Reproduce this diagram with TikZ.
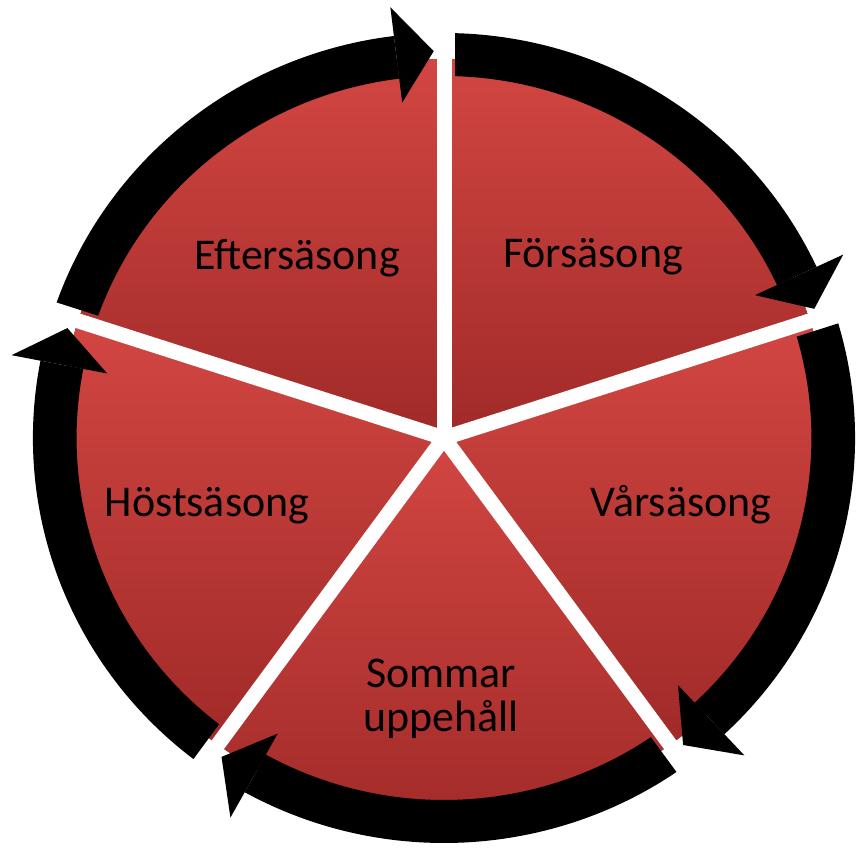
\documentclass[tikz,border=0pt]{standalone}
\usepackage{fontspec}
\setmainfont{Carlito}
\definecolor{segtop}{RGB}{210,70,66}
\definecolor{segbot}{RGB}{160,42,40}
\begin{document}
\begin{tikzpicture}[x=0.02cm,y=0.02cm,
  seg/.style={top color=segtop,bottom color=segbot},
  band/.style={fill=black},
  gapline/.style={draw=white,line width=0.3cm},
  lbl/.style={font=\fontsize{25}{25.5}\selectfont,text=black,anchor=base,inner sep=0pt}]
\useasboundingbox (0,0) rectangle (859,849);
\fill[white] (0,0) rectangle (859,849);
\begin{scope}[shift={(444,411)},xscale=1.015]
  % pie segments
  \foreach \a/\b in {162/90,90/18,18/-54,-54/-126,-126/-198}{
    \fill[seg] (0,0) -- (\a:379) arc[start angle=\a,end angle=\b,radius=379] -- cycle;
  }
  % gaps in the pie
  \foreach \g in {162,90,18,-54,-126}{
    \draw[gapline] (0,0) -- (\g:390);
  }
  % arrow shafts (tail cut parallel to the gap)
  \foreach \a/\b in {162/90,90/18,18/-54,-54/-126,-126/-198}{
    \pgfmathsetmacro\bb{\b+7}
    \pgfmathsetmacro\to{\a-asin(11/405)}
    \pgfmathsetmacro\ti{\a-asin(11/362)}
    \fill[band] (\to:405) arc[start angle=\to,end angle=\bb,radius=405]
      -- (\bb:362) arc[start angle=\bb,end angle=\ti,radius=362] -- cycle;
  }
  % arrow heads
  \foreach \b in {90,18,-54,-126,-198}{
    \pgfmathsetmacro\bb{\b+7}
    \pgfmathsetmacro\tip{\b+1.5}
    \fill[band] (\bb:434) -- (\tip:387) -- (\bb:338) -- cycle;
  }
\end{scope}
\node[lbl] (efter) at (297,579) {Eftersäsong};
\node[lbl] (fore) at (593,581) {Försäsong};
\node[lbl] (var) at (681,332) {Vårsäsong};
\node[lbl] (host) at (207,332) {Höstsäsong};
\node[lbl,align=center] (sommar) at (441,117) {Sommar\\uppehåll};
\end{tikzpicture}
\end{document}
